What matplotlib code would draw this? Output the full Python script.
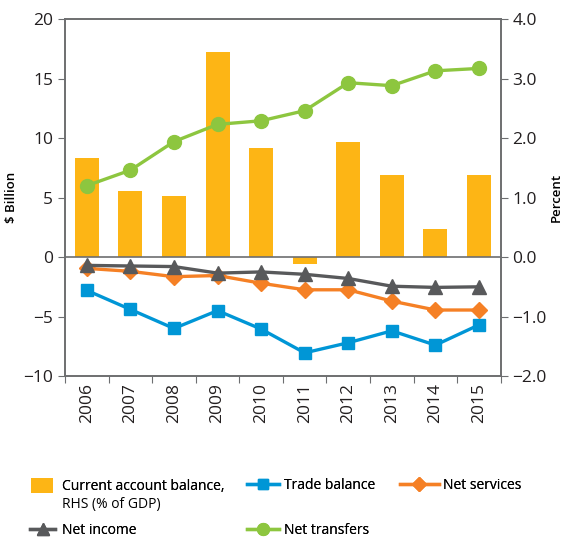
import matplotlib.pyplot as plt
from matplotlib.ticker import FixedLocator
import numpy as np

# data
years = ["2006", "2007", "2008", "2009", "2010", "2011", "2012", "2013", "2014", "2015"]
current_account = [1.66, 1.11, 1.02, 3.45, 1.84, -0.11, 1.93, 1.38, 0.47, 1.38]  # % of GDP (RHS)
trade_balance = [-2.8, -4.4, -6.0, -4.5, -6.05, -8.05, -7.2, -6.2, -7.4, -5.7]
net_services = [-0.95, -1.2, -1.65, -1.55, -2.2, -2.75, -2.75, -3.7, -4.45, -4.45]
net_income = [-0.7, -0.75, -0.8, -1.35, -1.25, -1.45, -1.8, -2.45, -2.55, -2.5]
net_transfers = [6.0, 7.3, 9.7, 11.15, 11.45, 12.3, 14.65, 14.4, 15.65, 15.85]

c_bar = "#FDB515"
c_trade = "#0096D6"
c_serv = "#F58025"
c_inc = "#58595B"
c_trans = "#8DC63F"
spine_c = "#6d6e70"

plt.rcParams["font.family"] = ["Open Sans", "DejaVu Sans"]

W, H = 562, 538
fig = plt.figure(figsize=(W / 100, H / 100), dpi=100)
ax = fig.add_axes([0.1157, 0.301, 0.7753, 0.6636])
ax2 = ax.twinx()

x = np.arange(len(years))

# bars on the right axis
bars = ax2.bar(x, current_account, width=0.55, color=c_bar, zorder=1)
ax2.set_ylim(-2, 4)
ax2.set_yticks([-2, -1, 0, 1, 2, 3, 4])
ax2.set_yticklabels(["\u22122.0", "\u22121.0", "0.0", "1.0", "2.0", "3.0", "4.0"])

# lines on the left axis (drawn above the bars)
ax.set_zorder(ax2.get_zorder() + 1)
ax.patch.set_visible(False)
ax.axhline(0, color=spine_c, lw=1.2, zorder=1)
lw = 2.4
l_trade, = ax.plot(x, trade_balance, color=c_trade, lw=lw, marker="s", ms=9, zorder=3)
l_serv, = ax.plot(x, net_services, color=c_serv, lw=lw, marker="D", ms=8, zorder=3)
l_inc, = ax.plot(x, net_income, color=c_inc, lw=lw, marker="^", ms=10, zorder=4)
l_trans, = ax.plot(x, net_transfers, color=c_trans, lw=lw, marker="o", ms=10, zorder=3)

ax.set_ylim(-10, 20)
ax.set_yticks([-10, -5, 0, 5, 10, 15, 20])
ax.set_yticklabels(["\u221210", "\u22125", "0", "5", "10", "15", "20"])
ax.set_xlim(-0.5, len(years) - 0.5)

# tick marks between categories, labels at centers
ax.xaxis.set_major_locator(FixedLocator(np.arange(-0.5, len(years), 1.0)))
ax.set_xticklabels([])
ax.xaxis.set_minor_locator(FixedLocator(x))
ax.set_xticklabels(years, minor=True, rotation=90)
ax.tick_params(axis="x", which="minor", length=0, pad=5, labelsize=12.5, colors="#231f20")
ax.tick_params(axis="x", which="major", length=5, color=spine_c)
ax.tick_params(axis="y", length=5, labelsize=12.5, color=spine_c, labelcolor="#231f20")
ax2.tick_params(axis="y", length=5, labelsize=12.5, color=spine_c, labelcolor="#231f20")

for a in (ax, ax2):
    for s in a.spines.values():
        s.set_color(spine_c)
        s.set_linewidth(1.2)

ax.set_ylabel("$ Billion", fontsize=9.5, fontweight="semibold", labelpad=4)
ax2.set_ylabel("Percent", fontsize=9.5, fontweight="semibold", rotation=90, labelpad=2)

# legend: one small legend per entry, placed on a grid like the reference
# (handle, label, left px, top px, handlelength, handletextpad)
entries = [
    (bars, "Current account balance,", 31, 478, 1.6, 0.6),
    (l_trade, "Trade balance", 247, 478, 2.3, 0.4),
    (l_serv, "Net services", 400, 478, 2.8, 0.3),
    (l_inc, "Net income", 30, 523, 1.8, 0.5),
    (l_trans, "Net transfers", 247, 523, 2.3, 0.4),
]
legs = []
for h, lab, px, py, hl, tp in entries:
    leg = fig.legend([h], [lab], loc="upper left",
                     bbox_to_anchor=(px / W, 1 - py / H), frameon=False,
                     fontsize=10, handlelength=hl,
                     handleheight=1.3 if h is bars else 0.7,
                     handletextpad=tp, borderpad=0, borderaxespad=0,
                     markerscale=0.85)
    fig.add_artist(leg)
    legs.append(leg)

# second line of the first entry, aligned under its text
fig.canvas.draw()
bb = legs[0].get_texts()[0].get_window_extent()
fig.text(bb.x0 / W, (bb.y0 - 18) / H, "RHS (% of GDP)", fontsize=10,
         ha="left", va="bottom")

fig.savefig("out.png", dpi=100)
